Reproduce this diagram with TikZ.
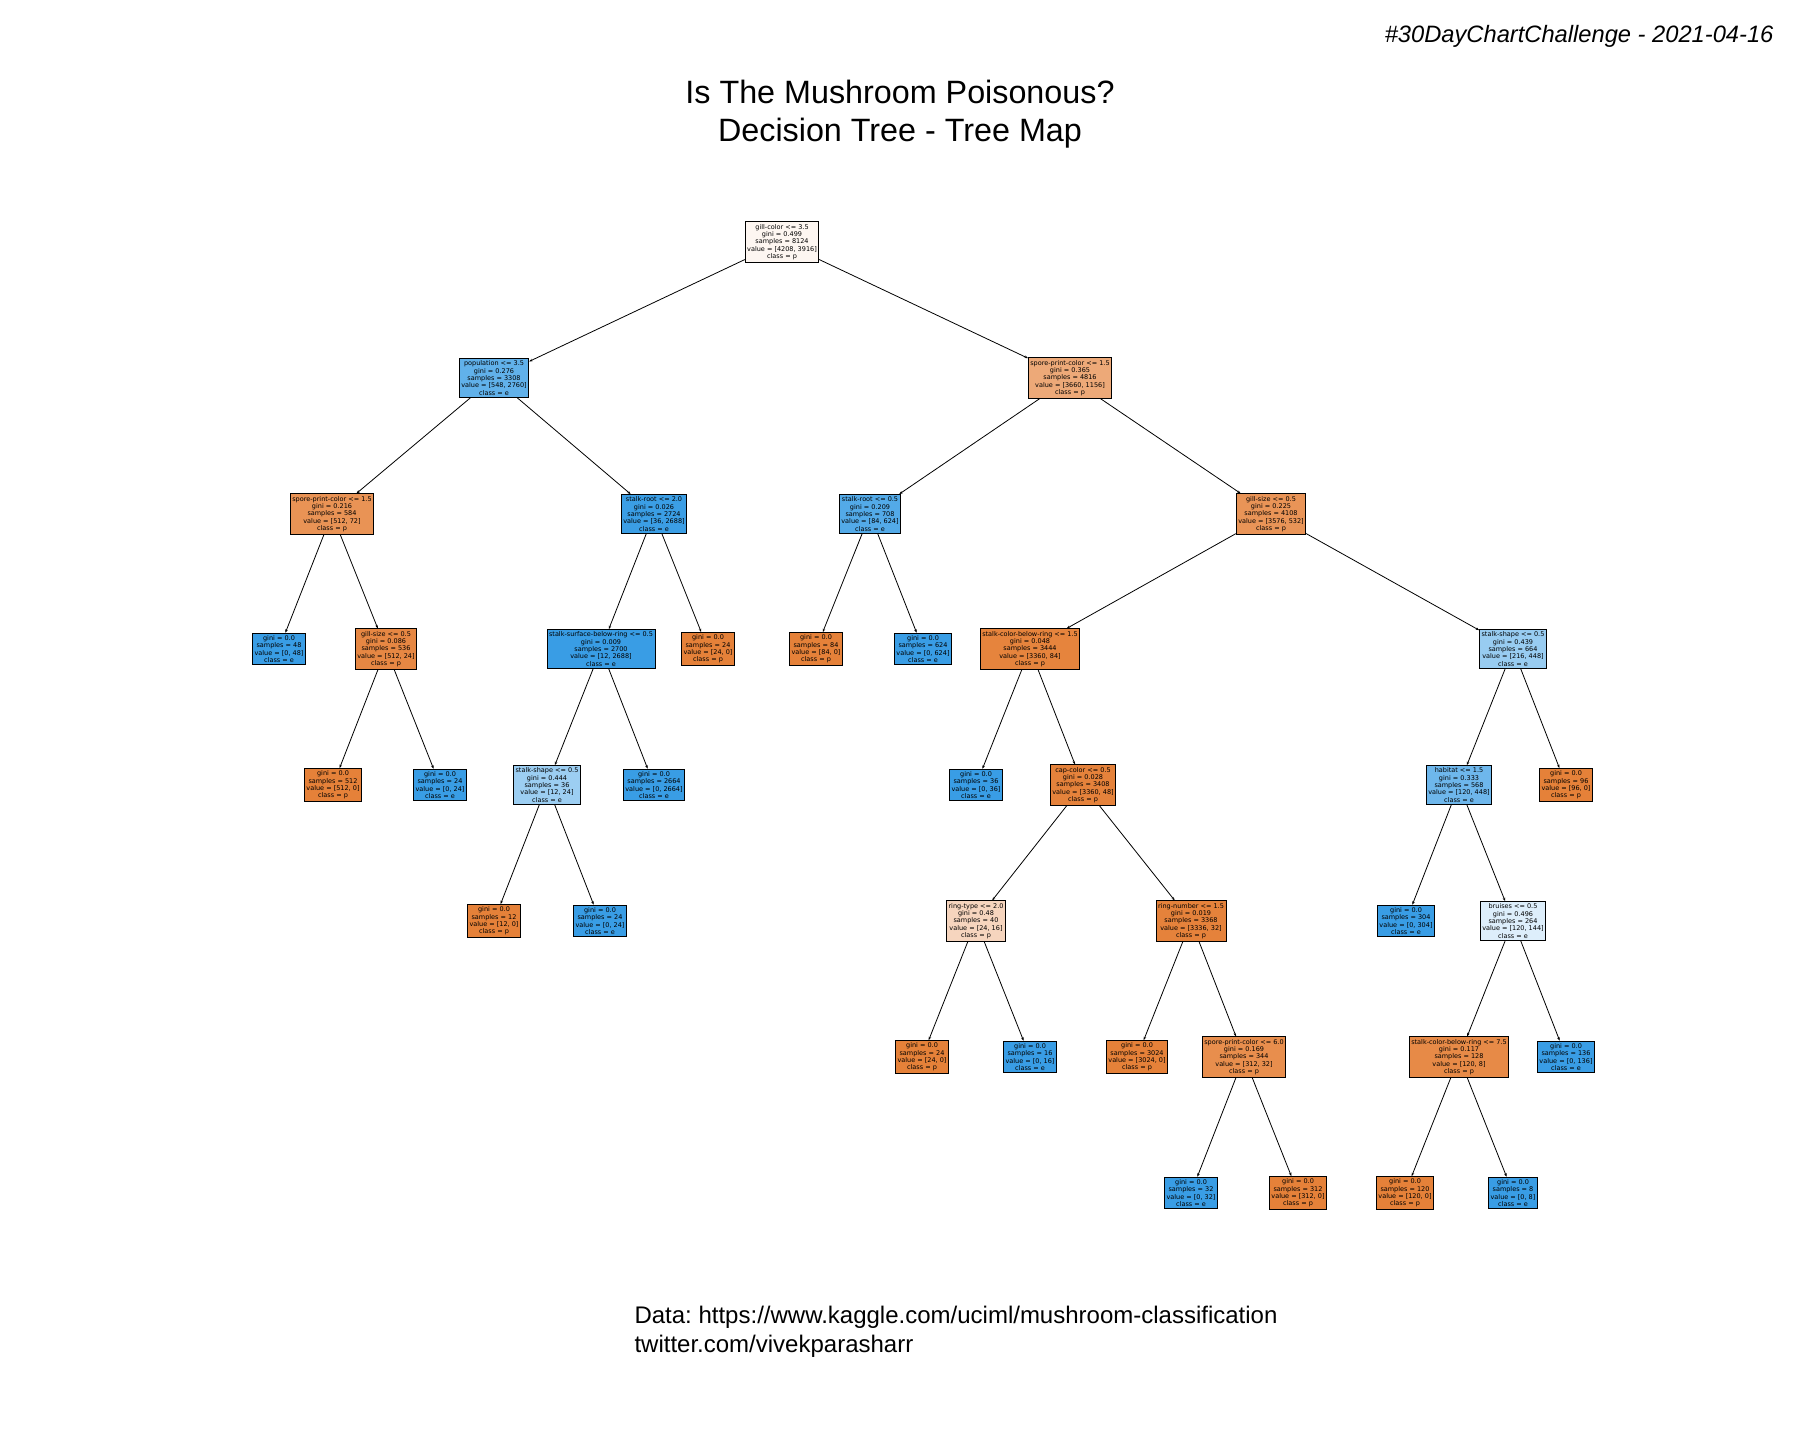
\documentclass[tikz,border=0pt]{standalone}
\usepackage{fontspec}
\usetikzlibrary{arrows.meta}
\setmainfont{Liberation Sans}
\newfontfamily\treefont{DejaVu Sans}
\definecolor{pcol}{RGB}{229,129,57}
\definecolor{ecol}{RGB}{57,157,229}
\frenchspacing
\begin{document}
\begin{tikzpicture}[x=1pt,y=-1pt,>=stealth,
  box/.style={draw,line width=0.8pt,align=center,inner xsep=2pt,inner ysep=2.4pt,
    font=\treefont\fontsize{6.5}{7.3}\selectfont},
  edge/.style={-{Stealth[length=3.5pt,width=2.6pt]},line width=0.8pt}]
  \useasboundingbox (0,0) rectangle (1800,1440);
  % titles
  \node[align=center,font=\fontsize{32.3}{38}\selectfont] (title) at (900,114)
    {Is The Mushroom Poisonous?\\Decision Tree - Tree Map};
  \node[anchor=east,font=\fontsize{23.7}{27}\selectfont\itshape] (tag) at (1777,36)
    {\#30DayChartChallenge - 2021-04-16};
  \node[anchor=west,align=left,font=\fontsize{24}{29}\selectfont] (source) at (631,1332)
    {Data: https://www.kaggle.com/uciml/mushroom-classification\\twitter.com/vivekparasharr};
  % depth 0 and 1
  \node[box,fill=pcol!7] (n0) at (782,242)
    {gill-color <= 3.5\\gini = 0.499\\samples = 8124\\value = [4208, 3916]\\class = p};
  \node[box,fill=ecol!80] (n1) at (494,378)
    {population <= 3.5\\gini = 0.276\\samples = 3308\\value = [548, 2760]\\class = e};
  \node[box,fill=pcol!68] (n2) at (1070,378)
    {spore-print-color <= 1.5\\gini = 0.365\\samples = 4816\\value = [3660, 1156]\\class = p};
  % depth 2
  \node[box,fill=pcol!86] (n3) at (332,514)
    {spore-print-color <= 1.5\\gini = 0.216\\samples = 584\\value = [512, 72]\\class = p};
  \node[box,fill=ecol!99] (n4) at (654,514)
    {stalk-root <= 2.0\\gini = 0.026\\samples = 2724\\value = [36, 2688]\\class = e};
  \node[box,fill=ecol!87] (n5) at (870,514)
    {stalk-root <= 0.5\\gini = 0.209\\samples = 708\\value = [84, 624]\\class = e};
  \node[box,fill=pcol!85] (n6) at (1271,514)
    {gill-size <= 0.5\\gini = 0.225\\samples = 4108\\value = [3576, 532]\\class = p};
  % depth 3
  \node[box,fill=ecol] (n7) at (279,649)
    {gini = 0.0\\samples = 48\\value = [0, 48]\\class = e};
  \node[box,fill=pcol!95] (n8) at (386,649)
    {gill-size <= 0.5\\gini = 0.086\\samples = 536\\value = [512, 24]\\class = p};
  \node[box,fill=ecol] (n9) at (601,649)
    {stalk-surface-below-ring <= 0.5\\gini = 0.009\\samples = 2700\\value = [12, 2688]\\class = e};
  \node[box,fill=pcol] (n10) at (708,649)
    {gini = 0.0\\samples = 24\\value = [24, 0]\\class = p};
  \node[box,fill=pcol] (n11) at (816,649)
    {gini = 0.0\\samples = 84\\value = [84, 0]\\class = p};
  \node[box,fill=ecol] (n12) at (923,649)
    {gini = 0.0\\samples = 624\\value = [0, 624]\\class = e};
  \node[box,fill=pcol!98] (n13) at (1030,649)
    {stalk-color-below-ring <= 1.5\\gini = 0.048\\samples = 3444\\value = [3360, 84]\\class = p};
  \node[box,fill=ecol!52] (n14) at (1513,649)
    {stalk-shape <= 0.5\\gini = 0.439\\samples = 664\\value = [216, 448]\\class = e};
  % depth 4
  \node[box,fill=pcol] (n15) at (333,785)
    {gini = 0.0\\samples = 512\\value = [512, 0]\\class = p};
  \node[box,fill=ecol] (n16) at (440,785)
    {gini = 0.0\\samples = 24\\value = [0, 24]\\class = e};
  \node[box,fill=ecol!50] (n17) at (547,785)
    {stalk-shape <= 0.5\\gini = 0.444\\samples = 36\\value = [12, 24]\\class = e};
  \node[box,fill=ecol] (n18) at (654,785)
    {gini = 0.0\\samples = 2664\\value = [0, 2664]\\class = e};
  \node[box,fill=ecol] (n19) at (976,785)
    {gini = 0.0\\samples = 36\\value = [0, 36]\\class = e};
  \node[box,fill=pcol!99] (n20) at (1083,785)
    {cap-color <= 0.5\\gini = 0.028\\samples = 3408\\value = [3360, 48]\\class = p};
  \node[box,fill=ecol!73] (n21) at (1459,785)
    {habitat <= 1.5\\gini = 0.333\\samples = 568\\value = [120, 448]\\class = e};
  \node[box,fill=pcol] (n22) at (1566,785)
    {gini = 0.0\\samples = 96\\value = [96, 0]\\class = p};
  % depth 5
  \node[box,fill=pcol] (n23) at (494,921)
    {gini = 0.0\\samples = 12\\value = [12, 0]\\class = p};
  \node[box,fill=ecol] (n24) at (600,921)
    {gini = 0.0\\samples = 24\\value = [0, 24]\\class = e};
  \node[box,fill=pcol!33] (n25) at (976,921)
    {ring-type <= 2.0\\gini = 0.48\\samples = 40\\value = [24, 16]\\class = p};
  \node[box,fill=pcol!99] (n26) at (1191,921)
    {ring-number <= 1.5\\gini = 0.019\\samples = 3368\\value = [3336, 32]\\class = p};
  \node[box,fill=ecol] (n27) at (1406,921)
    {gini = 0.0\\samples = 304\\value = [0, 304]\\class = e};
  \node[box,fill=ecol!17] (n28) at (1513,921)
    {bruises <= 0.5\\gini = 0.496\\samples = 264\\value = [120, 144]\\class = e};
  % depth 6
  \node[box,fill=pcol] (n29) at (922,1057)
    {gini = 0.0\\samples = 24\\value = [24, 0]\\class = p};
  \node[box,fill=ecol] (n30) at (1030,1057)
    {gini = 0.0\\samples = 16\\value = [0, 16]\\class = e};
  \node[box,fill=pcol] (n31) at (1137,1057)
    {gini = 0.0\\samples = 3024\\value = [3024, 0]\\class = p};
  \node[box,fill=pcol!90] (n32) at (1244,1057)
    {spore-print-color <= 6.0\\gini = 0.169\\samples = 344\\value = [312, 32]\\class = p};
  \node[box,fill=pcol!93] (n33) at (1459,1057)
    {stalk-color-below-ring <= 7.5\\gini = 0.117\\samples = 128\\value = [120, 8]\\class = p};
  \node[box,fill=ecol] (n34) at (1566,1057)
    {gini = 0.0\\samples = 136\\value = [0, 136]\\class = e};
  % depth 7
  \node[box,fill=ecol] (n35) at (1191,1193)
    {gini = 0.0\\samples = 32\\value = [0, 32]\\class = e};
  \node[box,fill=pcol] (n36) at (1298,1193)
    {gini = 0.0\\samples = 312\\value = [312, 0]\\class = p};
  \node[box,fill=pcol] (n37) at (1405,1193)
    {gini = 0.0\\samples = 120\\value = [120, 0]\\class = p};
  \node[box,fill=ecol] (n38) at (1513,1193)
    {gini = 0.0\\samples = 8\\value = [0, 8]\\class = e};
  % splits
  \foreach \a/\b in {n0/n1,n0/n2,n1/n3,n1/n4,n2/n5,n2/n6,n3/n7,n3/n8,n4/n9,n4/n10,
      n5/n11,n5/n12,n6/n13,n6/n14,n8/n15,n8/n16,n9/n17,n9/n18,n13/n19,n13/n20,
      n14/n21,n14/n22,n17/n23,n17/n24,n20/n25,n20/n26,n21/n27,n21/n28,
      n25/n29,n25/n30,n26/n31,n26/n32,n28/n33,n28/n34,n32/n35,n32/n36,n33/n37,n33/n38}
    \draw[edge] (\a) -- (\b);
\end{tikzpicture}
\end{document}
